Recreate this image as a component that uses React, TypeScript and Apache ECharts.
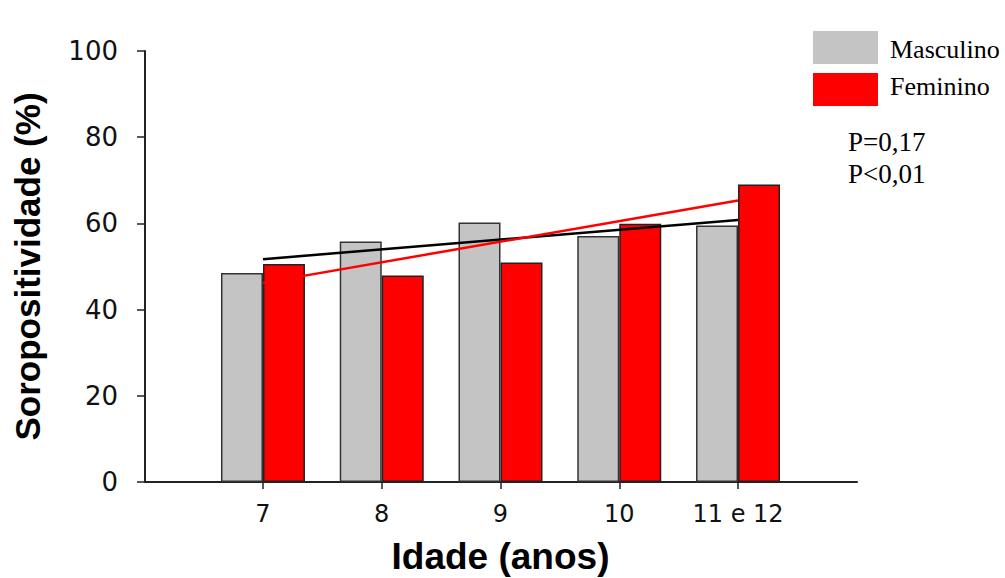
import React, { useEffect, useRef } from "react";
import * as echarts from "echarts";

const categories = ["7", "8", "9", "10", "11 e 12"];
const seriesNames = ["Masculino", "Feminino"];
const masculino = [48.5, 55.8, 60.2, 57.1, 59.5];
const feminino = [50.6, 47.9, 50.9, 59.9, 69.0];
// regression lines: values at first and last age group
const trendMasculino = [51.7, 60.8];
const trendFeminino = [46.2, 65.3];
const pValues = ["P=0,17", "P<0,01"];
const yMin = 0;
const yMax = 100;
const yStep = 20;

export default function App() {
  const ref = useRef<HTMLDivElement>(null);
  useEffect(() => {
    if (!ref.current) return;
    const chart = echarts.init(ref.current, null, { renderer: "svg" });
    const last = categories.length - 1;
    const axisColor = "#222";
    const legendLabelTops = [36, 73.5];
    chart.setOption({
      animation: false,
      backgroundColor: "#fff",
      grid: [
        { left: 145, right: 148, top: 51, bottom: 578 - 482, outerBoundsMode: "none", containLabel: false },
        { left: 203.6, width: 593.8, top: 51, bottom: 578 - 482, outerBoundsMode: "none", containLabel: false },
      ],
      xAxis: [
        {
          gridIndex: 0,
          type: "value",
          min: 0,
          max: 1,
          axisLine: { show: true, lineStyle: { color: axisColor, width: 2 } },
          axisTick: { show: false },
          axisLabel: { show: false },
          splitLine: { show: false },
        },
        {
          gridIndex: 1,
          type: "category",
          data: categories,
          axisLine: { show: true, lineStyle: { color: axisColor, width: 2 } },
          axisTick: { show: true, alignWithLabel: true, length: 7, lineStyle: { color: axisColor, width: 1.5 } },
          axisLabel: { fontFamily: "DejaVu Sans", fontSize: 24, color: "#111", margin: 20 },
          name: "Idade (anos)",
          nameLocation: "middle",
          nameGap: 56,
          nameTextStyle: { fontFamily: "Liberation Sans", fontWeight: "bold", fontSize: 37, color: "#000" },
        },
      ],
      yAxis: [
        {
          gridIndex: 0,
          type: "value",
          min: yMin,
          max: yMax,
          interval: yStep,
          axisLine: { show: true, lineStyle: { color: axisColor, width: 2 } },
          axisTick: { show: true, length: 8, lineStyle: { color: axisColor, width: 1.5 } },
          axisLabel: { fontFamily: "DejaVu Sans", fontSize: 26, color: "#111", margin: 27 },
          splitLine: { show: false },
          name: "Soropositividade (%)",
          nameLocation: "middle",
          nameGap: 100,
          nameTextStyle: { fontFamily: "Liberation Sans", fontWeight: "bold", fontSize: 35, color: "#000" },
        },
        { gridIndex: 1, type: "value", min: yMin, max: yMax, show: false },
      ],
      legend: {
        orient: "vertical",
        left: 813,
        top: 31,
        icon: "rect",
        itemWidth: 65,
        itemHeight: 33,
        itemGap: 9,
        padding: 0,
        data: seriesNames,
        formatter: () => "",
        itemStyle: { borderWidth: 0 },
        textStyle: { fontSize: 1 },
      },
      series: [
        {
          name: seriesNames[0],
          type: "bar",
          xAxisIndex: 1,
          yAxisIndex: 1,
          data: masculino,
          barWidth: 42,
          barGap: "0%",
          itemStyle: { color: "#c4c4c4", borderColor: "#333", borderWidth: 1.5 },
        },
        {
          name: seriesNames[1],
          type: "bar",
          xAxisIndex: 1,
          yAxisIndex: 1,
          data: feminino,
          barWidth: 42,
          barGap: "0%",
          itemStyle: { color: "#ff0000", borderColor: "#222", borderWidth: 1.5 },
        },
        {
          name: "trendM",
          type: "line",
          xAxisIndex: 1,
          yAxisIndex: 1,
          symbol: "none",
          z: 5,
          data: [
            [0, trendMasculino[0]],
            [last, trendMasculino[1]],
          ],
          lineStyle: { color: "#000", width: 2.5 },
        },
        {
          name: "trendF",
          type: "line",
          xAxisIndex: 1,
          yAxisIndex: 1,
          symbol: "none",
          z: 5,
          data: [
            [0, trendFeminino[0]],
            [last, trendFeminino[1]],
          ],
          lineStyle: { color: "#ff0000", width: 2.5 },
        },
      ],
      graphic: [
        ...seriesNames.map((t, i) => ({
          type: "text",
          left: 890,
          top: legendLabelTops[i],
          style: {
            text: t,
            fontFamily: "Liberation Serif",
            fontSize: 26,
            fill: "#000",
          },
        })),
        ...pValues.map((t, i) => ({
          type: "text",
          left: 848,
          top: 128 + i * 32,
          style: {
            text: t,
            fontFamily: "Liberation Serif",
            fontSize: 27,
            fill: "#000",
          },
        })),
      ],
    });
    return () => chart.dispose();
  }, []);
  return (
    <div
      ref={ref}
      style={{ position: "fixed", left: 0, top: 0, width: 1005, height: 578 }}
    />
  );
}
